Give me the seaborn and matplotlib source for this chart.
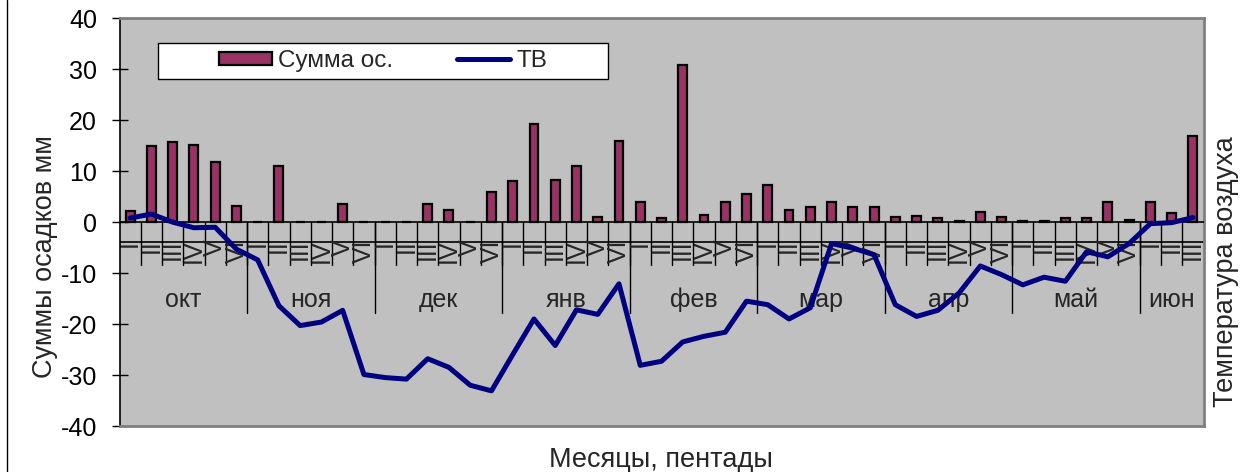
import numpy as np
import pandas as pd
import matplotlib
matplotlib.use("Agg")
import matplotlib.pyplot as plt
from matplotlib.patches import Patch, Rectangle
from matplotlib.lines import Line2D
import seaborn as sns

sns.set_style("white")
plt.rcParams["font.family"] = ["Liberation Sans", "DejaVu Sans"]
plt.rcParams["axes.unicode_minus"] = False

# Months and number of pentads shown for each
months = ["окт", "ноя", "дек", "янв", "фев", "мар", "апр", "май", "июн"]
pentads_per_month = [6, 6, 6, 6, 6, 6, 6, 6, 3]
pentad_labels = ["I", "II", "III", "IV", "V", "VI"]

# Precipitation sums per pentad, mm
precip = [
    2.2, 15.0, 15.8, 15.2, 11.9, 3.2,    # окт
    0.0, 11.0, 0.0, 0.0, 3.6, 0.0,       # ноя
    0.0, 0.0, 3.5, 2.3, 0.0, 6.0,        # дек
    8.0, 19.3, 8.2, 11.0, 1.0, 16.0,     # янв
    4.0, 0.8, 30.8, 1.5, 3.9, 5.5,       # фев
    7.2, 2.3, 3.0, 4.0, 3.0, 2.9,        # мар
    1.0, 1.2, 0.9, 0.3, 2.0, 1.0,        # апр
    0.2, 0.3, 0.9, 0.9, 3.9, 0.5,        # май
    4.0, 1.8, 17.0,                      # июн
]

# Mean air temperature per pentad, °C
temp = [
    0.8, 1.6, 0.0, -1.1, -1.0, -5.3,
    -7.4, -16.4, -20.3, -19.6, -17.3, -29.9,
    -30.5, -30.8, -26.8, -28.5, -32.0, -33.1,
    -26.0, -19.0, -24.2, -17.2, -18.1, -12.1,
    -28.1, -27.3, -23.5, -22.4, -21.6, -15.5,
    -16.2, -19.0, -16.8, -4.2, -5.1, -6.4,
    -16.2, -18.5, -17.3, -13.9, -8.6, -10.3,
    -12.3, -10.8, -11.6, -5.8, -6.8, -4.2,
    -0.3, -0.1, 0.9,
]

n = len(precip)
df = pd.DataFrame({"pentad": np.arange(n), "precip": precip, "temp": temp})

BAR_COLOR = "#993366"
LINE_COLOR = "#000080"
FS = 18          # tick and category labels
FS_TITLE = 19.5  # axis titles
FS_LEG = 17.5

W, H = 1248, 472
fig = plt.figure(figsize=(W / 100, H / 100), dpi=100)
ax = fig.add_axes([119.5 / W, 1 - 426 / H, 1084 / W, 407.7 / H])
ax.set_facecolor("#C0C0C0")

sns.barplot(data=df, x="pentad", y="precip", color=BAR_COLOR, saturation=1,
            edgecolor="black", linewidth=1.6, width=0.42, ax=ax, zorder=3)
sns.lineplot(data=df, x="pentad", y="temp", color=LINE_COLOR, linewidth=3.6,
             ax=ax, zorder=5, sort=False)

ax.set_xlim(-0.5, n - 0.5)
ax.set_ylim(-40, 40)
ax.set_yticks(np.arange(-40, 41, 10))
ax.set_xticks([])
ax.set_xlabel("")
ax.set_ylabel("")
ax.tick_params(axis="y", direction="inout", length=11.5, width=1.0,
               pad=10.4, labelsize=FS, left=True, colors="black")

for side in ["top", "right", "bottom"]:
    ax.spines[side].set_color("#808080")
    ax.spines[side].set_linewidth(2)
ax.spines["left"].set_color("black")
ax.spines["left"].set_linewidth(1.2)

# Category axis at zero and the lower rule for the pentad labels
ax.axhline(0, color="black", lw=1.2, zorder=4)
ax.axhline(-3.83, color="black", lw=1.2, zorder=2)

# Pentad separators and month separators
for b in range(1, n):
    ax.plot([b - 0.5, b - 0.5], [0, -8.4], color="black", lw=1.0, zorder=2)
starts = np.cumsum([0] + pentads_per_month)
for s in starts[1:-1]:
    ax.plot([s - 0.5, s - 0.5], [0, -17.8], color="black", lw=1.0, zorder=2)

# Two-level category labels: rotated pentad numerals, then month names
for m, (name, cnt) in enumerate(zip(months, pentads_per_month)):
    s = starts[m]
    for k in range(cnt):
        ax.text(s + k, -3.45, pentad_labels[k], rotation=90, ha="center",
                va="top", fontsize=FS, zorder=2)
    ax.text(s + (cnt - 1) / 2, -15.2, name, ha="center", va="center",
            fontsize=FS, zorder=2)

# Legend with white box
ax.add_patch(Rectangle((0.0355, 0.851), 0.415, 0.088, transform=ax.transAxes,
                       facecolor="white", edgecolor="black", lw=1.0, zorder=6))
handles = [Patch(facecolor=BAR_COLOR, edgecolor="black", linewidth=1.6),
           Line2D([], [], color=LINE_COLOR, lw=3.6)]
leg = ax.legend(handles, ["Сумма ос.", "ТВ"], loc="center",
                bbox_to_anchor=(0.0355 + 0.415 / 2, 0.851 + 0.044),
                ncol=2, frameon=False, fontsize=FS_LEG, handlelength=2.2,
                handleheight=0.5, handletextpad=0.25, columnspacing=2.6,
                borderpad=0.2)
leg.set_zorder(7)

# Axis titles
fig.text(45 / W, 1 - 257 / H, "Суммы осадков мм", rotation=90,
         ha="center", va="center", fontsize=FS_TITLE)
fig.text(1226 / W, 1 - 272 / H, "Температура воздуха", rotation=90,
         ha="center", va="center", fontsize=FS_TITLE)
fig.text(661 / W, 1 - 460 / H, "Месяцы, пентады", ha="center", va="center",
         fontsize=FS_TITLE)

# Chart area border on the left
fig.add_artist(Line2D([6.5 / W, 6.5 / W], [0, 1], color="black", lw=1.0,
                      transform=fig.transFigure))

fig.savefig("out.png", dpi=100)
